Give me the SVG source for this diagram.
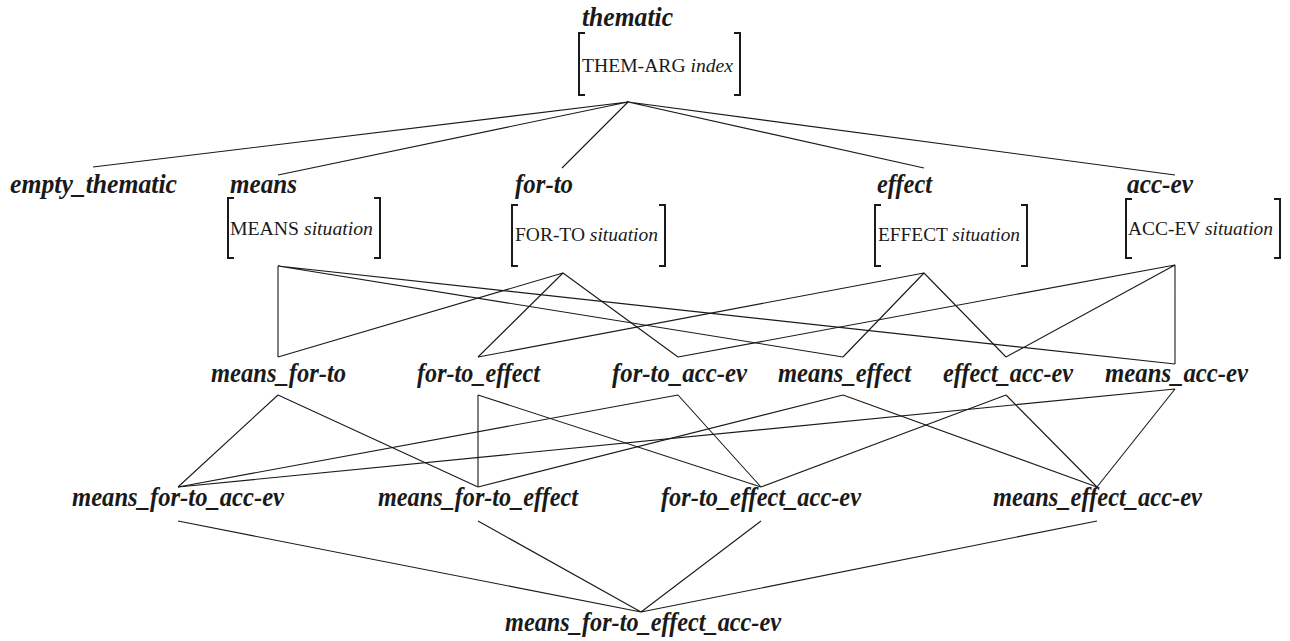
<svg xmlns="http://www.w3.org/2000/svg" width="1290" height="641" viewBox="0 0 1290 641">
  <style>
    .lbl { font-family: "Liberation Serif", "Times New Roman", serif; font-style: italic; font-weight: bold; font-size: 27px; fill: #1a1a1a; }
    .feat { font-family: "Liberation Serif", "Times New Roman", serif; font-size: 18.5px; fill: #1a1a1a; }
    .val { font-style: italic; }
    .brk { fill: none; stroke: #1a1a1a; stroke-width: 2; }
    .edge { fill: none; stroke: #1a1a1a; stroke-width: 1.1; }
  </style>
  <rect width="1290" height="641" fill="#ffffff"/>

  <!-- type hierarchy edges -->
  <g id="connectors">
    <!-- thematic to its direct subtypes -->
    <path class="edge" d="M628 102 L93 167 M628 102 L278 175 M628 102 L562 168 M628 102 L924 168 M628 102 L1175 175"/>
    <!-- single types to pairs -->
    <path class="edge" d="M278 266 L278 357 M278 266 L843 357 M278 266 L1175 364"/>
    <path class="edge" d="M563 273 L278 357 M563 273 L478 357 M563 273 L678 357"/>
    <path class="edge" d="M924 273 L478 357 M924 273 L843 357 M924 273 L1006 357"/>
    <path class="edge" d="M1175 265 L678 357 M1175 265 L1006 357 M1175 265 L1175 364"/>
    <!-- pairs to triples -->
    <path class="edge" d="M278 395 L178 487 M278 395 L478 487"/>
    <path class="edge" d="M478 395 L478 487 M478 395 L761 487"/>
    <path class="edge" d="M678 395 L178 487 M678 395 L761 487"/>
    <path class="edge" d="M843 395 L478 487 M843 395 L1097 487"/>
    <path class="edge" d="M1006 395 L761 487 M1006 395 L1097 487"/>
    <path class="edge" d="M1175 389 L178 487 M1175 389 L1097 487"/>
    <!-- triples to the full combination -->
    <path class="edge" d="M178 521 L641 612 M478 521 L641 612 M761 521 L641 612 M1097 521 L641 612"/>
  </g>

  <g id="thematic">
    <text class="lbl" x="582" y="26" textLength="91" lengthAdjust="spacingAndGlyphs">thematic</text>
    <path class="brk" d="M585 33 H579 V95 H585 M734 33 H740 V95 H734"/>
    <text class="feat" x="582" y="72" textLength="151" lengthAdjust="spacingAndGlyphs">THEM-ARG <tspan class="val">index</tspan></text>
  </g>

  <g id="empty_thematic">
    <text class="lbl" x="10" y="193" textLength="167" lengthAdjust="spacingAndGlyphs">empty_thematic</text>
  </g>

  <g id="means">
    <text class="lbl" x="230" y="193" textLength="67" lengthAdjust="spacingAndGlyphs">means</text>
    <path class="brk" d="M234 198 H228 V258 H234 M374 198 H380 V258 H374"/>
    <text class="feat" x="230" y="235" textLength="143" lengthAdjust="spacingAndGlyphs">MEANS <tspan class="val">situation</tspan></text>
  </g>

  <g id="for-to">
    <text class="lbl" x="515" y="193" textLength="58" lengthAdjust="spacingAndGlyphs">for-to</text>
    <path class="brk" d="M518 205 H512 V266 H518 M659 205 H665 V266 H659"/>
    <text class="feat" x="515" y="241" textLength="143" lengthAdjust="spacingAndGlyphs">FOR-TO <tspan class="val">situation</tspan></text>
  </g>

  <g id="effect">
    <text class="lbl" x="877" y="193" textLength="55" lengthAdjust="spacingAndGlyphs">effect</text>
    <path class="brk" d="M881 205 H875 V266 H881 M1021 205 H1027 V266 H1021"/>
    <text class="feat" x="878" y="241" textLength="142" lengthAdjust="spacingAndGlyphs">EFFECT <tspan class="val">situation</tspan></text>
  </g>

  <g id="acc-ev">
    <text class="lbl" x="1127" y="193" textLength="66" lengthAdjust="spacingAndGlyphs">acc-ev</text>
    <path class="brk" d="M1132 199 H1126 V258 H1132 M1274 199 H1280 V258 H1274"/>
    <text class="feat" x="1128" y="235" textLength="145" lengthAdjust="spacingAndGlyphs">ACC-EV <tspan class="val">situation</tspan></text>
  </g>

  <g id="means_for-to">
    <text class="lbl" x="211" y="382" textLength="135" lengthAdjust="spacingAndGlyphs">means_for-to</text>
  </g>
  <g id="for-to_effect">
    <text class="lbl" x="417" y="382" textLength="123" lengthAdjust="spacingAndGlyphs">for-to_effect</text>
  </g>
  <g id="for-to_acc-ev">
    <text class="lbl" x="612" y="382" textLength="135" lengthAdjust="spacingAndGlyphs">for-to_acc-ev</text>
  </g>
  <g id="means_effect">
    <text class="lbl" x="778" y="382" textLength="133" lengthAdjust="spacingAndGlyphs">means_effect</text>
  </g>
  <g id="effect_acc-ev">
    <text class="lbl" x="943" y="382" textLength="130" lengthAdjust="spacingAndGlyphs">effect_acc-ev</text>
  </g>
  <g id="means_acc-ev">
    <text class="lbl" x="1105" y="382" textLength="143" lengthAdjust="spacingAndGlyphs">means_acc-ev</text>
  </g>

  <g id="means_for-to_acc-ev">
    <text class="lbl" x="72" y="506" textLength="212" lengthAdjust="spacingAndGlyphs">means_for-to_acc-ev</text>
  </g>
  <g id="means_for-to_effect">
    <text class="lbl" x="378" y="506" textLength="200" lengthAdjust="spacingAndGlyphs">means_for-to_effect</text>
  </g>
  <g id="for-to_effect_acc-ev">
    <text class="lbl" x="661" y="506" textLength="200" lengthAdjust="spacingAndGlyphs">for-to_effect_acc-ev</text>
  </g>
  <g id="means_effect_acc-ev">
    <text class="lbl" x="993" y="506" textLength="209" lengthAdjust="spacingAndGlyphs">means_effect_acc-ev</text>
  </g>

  <g id="means_for-to_effect_acc-ev">
    <text class="lbl" x="505" y="631" textLength="276" lengthAdjust="spacingAndGlyphs">means_for-to_effect_acc-ev</text>
  </g>
</svg>
